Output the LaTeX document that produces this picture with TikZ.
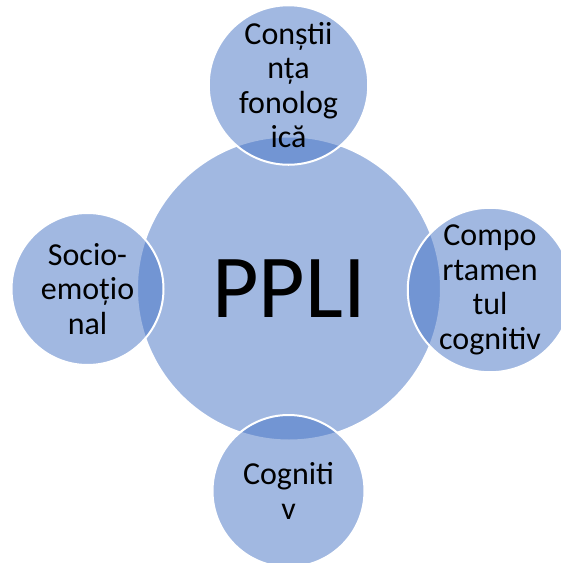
\documentclass[tikz,border=0pt]{standalone}
\usepackage{fontspec}
\setmainfont{Carlito}
\definecolor{acc}{HTML}{4472C4}
\begin{document}
\begin{tikzpicture}[x=1pt,y=-1pt,
  bub/.style={circle, draw=white, line width=2pt, fill=acc, fill opacity=0.5,
    draw opacity=1, text opacity=1, inner sep=0pt, minimum size=#1, align=center,
    font=\fontsize{32}{34.5}\selectfont}]
\useasboundingbox (0,0) rectangle (561,563);
\clip (0,0) rectangle (561,563);
\node[bub=304, font=\fontsize{90}{100}\selectfont] (c) at (289,288.5) {PPLI};
\node[bub=152] (t) at (288.5,85) {Conștii\\nța\\fonolog\\ică};
\node[bub=152] (r) at (490,290) {Compo\\rtamen\\tul\\cognitiv};
\node[bub=152] (l) at (87.5,289) {Socio-\\emoțio\\nal};
\node[bub=152] (b) at (288.5,491) {Cogniti\\v};
\end{tikzpicture}
\end{document}
